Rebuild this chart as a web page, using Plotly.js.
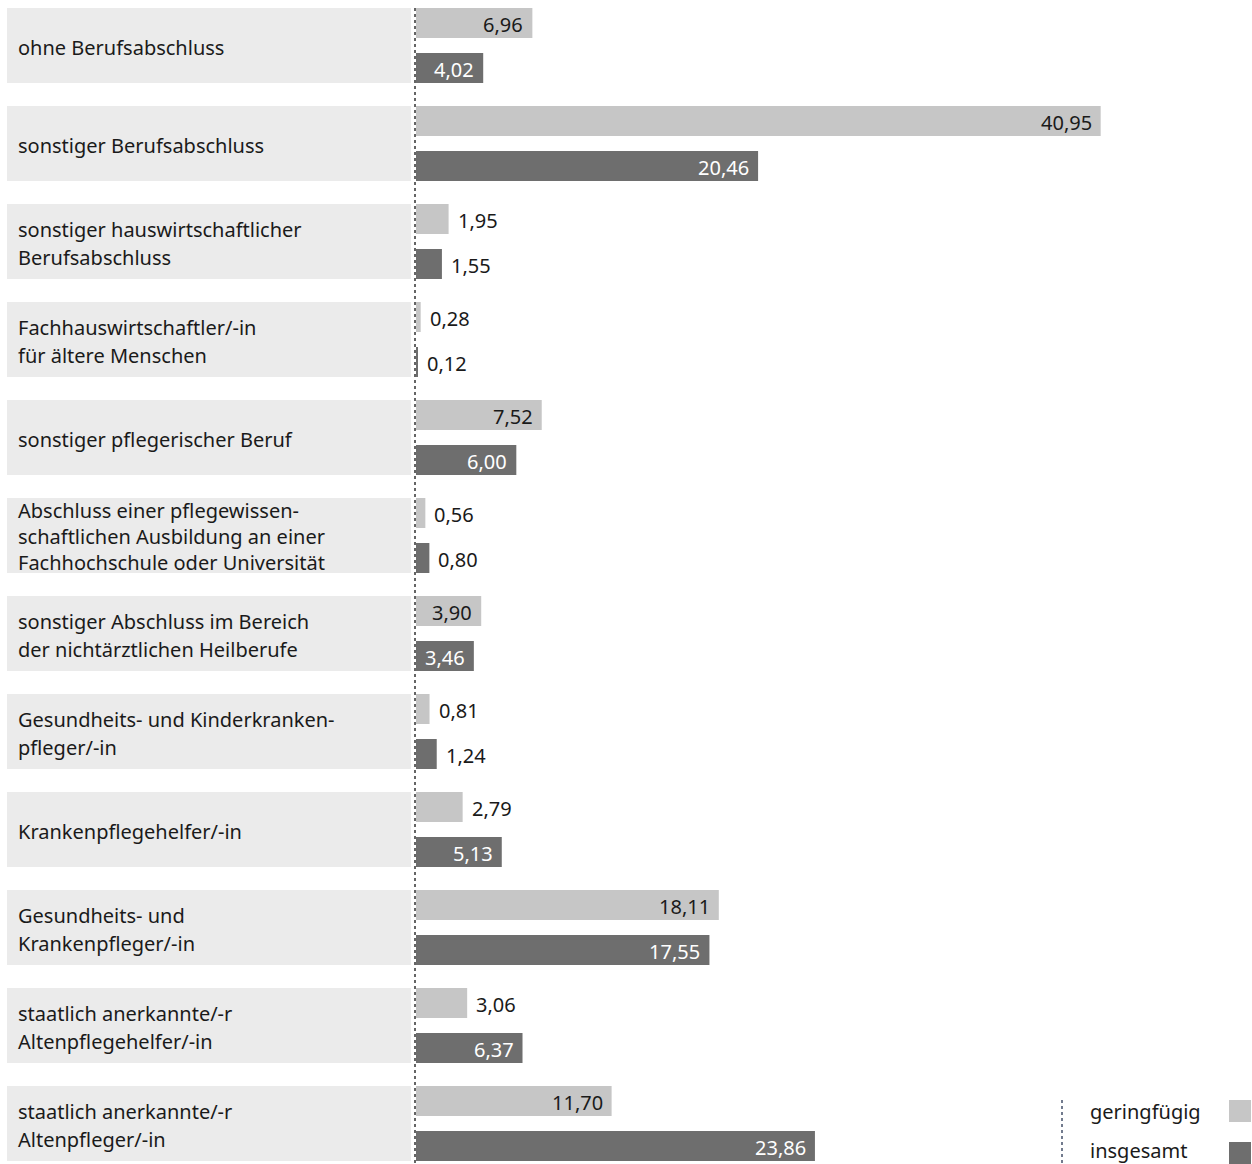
<!DOCTYPE html>
<html>
<head>
<meta charset="utf-8">
<script src="https://cdn.plot.ly/plotly-3.0.1.min.js"></script>
<style>
html,body{margin:0;padding:0;background:#fff;}
#chart{width:1252px;height:1164px;}
</style>
</head>
<body>
<div id="chart"></div>
<script>
const categories = [
  "ohne Berufsabschluss",
  "sonstiger Berufsabschluss",
  "sonstiger hauswirtschaftlicher\nBerufsabschluss",
  "Fachhauswirtschaftler/-in\nfür ältere Menschen",
  "sonstiger pflegerischer Beruf",
  "Abschluss einer pflegewissen-\nschaftlichen Ausbildung an einer\nFachhochschule oder Universität",
  "sonstiger Abschluss im Bereich\nder nichtärztlichen Heilberufe",
  "Gesundheits- und Kinderkranken-\npfleger/-in",
  "Krankenpflegehelfer/-in",
  "Gesundheits- und\nKrankenpfleger/-in",
  "staatlich anerkannte/-r\nAltenpflegehelfer/-in",
  "staatlich anerkannte/-r\nAltenpfleger/-in"
];
const geringfuegig = [6.96, 40.95, 1.95, 0.28, 7.52, 0.56, 3.90, 0.81, 2.79, 18.11, 3.06, 11.70];
const insgesamt    = [4.02, 20.46, 1.55, 0.12, 6.00, 0.80, 3.46, 1.24, 5.13, 17.55, 6.37, 23.86];
const seriesNames = ["geringfügig", "insgesamt"];

const W = 1252, H = 1164, L = 416, PW = W - L;
const CAT = 98;               // px per category
const BAR = 30 / CAT, HALF = 37.5 / CAT, INNER = 7.5 / CAT;
const cLight = "#c6c6c6", cDark = "#6e6e6e", cText = "#1a1a1a";
const FONT = "Noto Sans";
const FS = 20;
const px = p => (p - L) / PW;      // page x -> paper x
const py = p => 1 - p / H;         // page y -> paper y
const fmt = v => v.toFixed(2).replace(".", ",");

const traces = [
  {type: "bar", orientation: "h", name: seriesNames[0], x: geringfuegig, y: categories,
   width: BAR, offset: -HALF, marker: {color: cLight}, hoverinfo: "skip", showlegend: false},
  {type: "bar", orientation: "h", name: seriesNames[1], x: insgesamt, y: categories,
   width: BAR, offset: INNER, marker: {color: cDark}, hoverinfo: "skip", showlegend: false}
];

const shapes = [], annotations = [];
categories.forEach((c, i) => {
  shapes.push({type: "rect", layer: "below", xref: "paper", yref: "y",
    x0: px(7), x1: px(411), y0: i - HALF, y1: i + HALF, fillcolor: "#ebebeb", line: {width: 0}});
  const lines = c.split("\n");
  if (lines.length >= 3) {
    annotations.push({xref: "paper", yref: "y", x: px(16), y: i, xanchor: "left", yanchor: "middle",
      align: "left", yshift: -1, text: lines.join("<br>"), showarrow: false,
      font: {family: FONT, size: FS, color: cText}});
  } else {
    lines.forEach((ln, k) => {
      annotations.push({xref: "paper", yref: "y", x: px(16), y: i, xanchor: "left", yanchor: "middle",
        yshift: -((k - (lines.length - 1) / 2) * 28) - 2, text: ln, showarrow: false,
        font: {family: FONT, size: FS, color: cText}});
    });
  }
  [[geringfuegig[i], -(HALF - BAR / 2), cText], [insgesamt[i], INNER + BAR / 2, "#ffffff"]].forEach(([v, off, inCol]) => {
    const inside = v > 3.3;
    annotations.push({xref: "x", yref: "y", x: v, y: i + off, showarrow: false,
      xanchor: inside ? "right" : "left", xshift: inside ? -7 : 7, yanchor: "middle", yshift: -1,
      text: fmt(v), font: {family: FONT, size: FS, color: inside ? inCol : cText}});
  });
});

// dotted baseline
shapes.push({type: "line", xref: "paper", yref: "paper", x0: px(415), x1: px(415), y0: py(8), y1: 0,
  line: {color: "#333333", width: 1.5, dash: "dot"}});
// legend
shapes.push({type: "line", xref: "paper", yref: "paper", x0: px(1062), x1: px(1062), y0: py(1100), y1: 0,
  line: {color: "#44506a", width: 1.5, dash: "dot"}});
[[cLight, 1100, 1111], [cDark, 1142, 1150]].forEach(([col, top, mid], k) => {
  shapes.push({type: "rect", xref: "paper", yref: "paper", x0: px(1229), x1: px(1251), y0: py(top), y1: py(top + 22),
    fillcolor: col, line: {width: 0}});
  annotations.push({xref: "paper", yref: "paper", x: px(1088), y: py(mid), xanchor: "left", yanchor: "middle",
    text: seriesNames[k], showarrow: false, font: {family: FONT, size: FS, color: cText}});
});

const layout = {
  width: W, height: H, margin: {l: L, r: 0, t: 0, b: 0},
  paper_bgcolor: "#ffffff", plot_bgcolor: "rgba(0,0,0,0)",
  barmode: "overlay", showlegend: false,
  xaxis: {range: [0, 50], visible: false, fixedrange: true},
  yaxis: {type: "category", range: [-45.5 / CAT + H / CAT, -45.5 / CAT], showticklabels: false,
          showgrid: false, zeroline: false, showline: false, ticks: "", fixedrange: true},
  shapes: shapes, annotations: annotations, font: {family: FONT}
};
Plotly.newPlot("chart", traces, layout, {displayModeBar: false, staticPlot: true});
</script>
</body>
</html>
